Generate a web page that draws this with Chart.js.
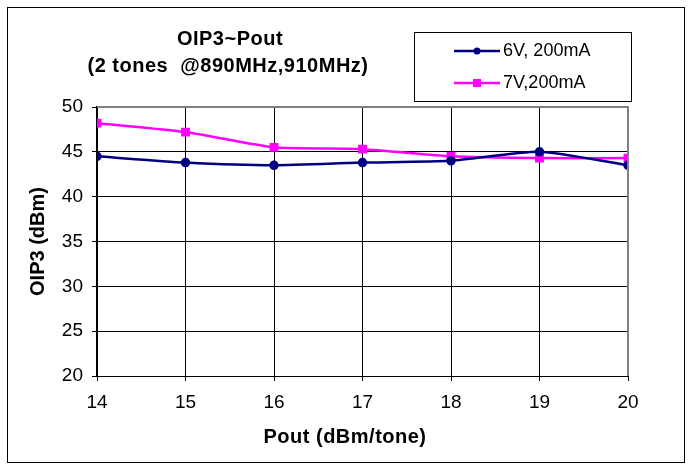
<!DOCTYPE html>
<html>
<head>
  <title>OIP3~Pout</title>
  <script src="https://cdn.jsdelivr.net/npm/chart.js"></script>
  <style>
    body { margin: 0; background: #fff; }
  </style>
</head>
<body>
  <canvas id="oip3Chart" width="692" height="470"></canvas>

  <script>
    const pout = [14, 15, 16, 17, 18, 19, 20];
    const oip3_6V = [44.5, 43.8, 43.5, 43.8, 44.0, 45.0, 43.5];
    const oip3_7V = [48.2, 47.2, 45.5, 45.3, 44.5, 44.3, 44.3];
    const seriesNames = ['6V, 200mA', '7V,200mA'];
    const titleLines = ['OIP3~Pout', '(2 tones  @890MHz,910MHz)'];
    const xTitle = 'Pout (dBm/tone)';
    const yTitle = 'OIP3 (dBm)';

    const FONT = '"Liberation Sans", Arial, sans-serif';

    // frame, title, x title and legend box like the Excel original
    const decor = {
      id: 'decor',
      beforeDraw(chart) {
        const c = chart.ctx;
        c.save();
        c.fillStyle = '#fff';
        c.fillRect(0, 0, chart.width, chart.height);
        c.strokeStyle = '#000';
        c.lineWidth = 1;
        c.strokeRect(7.5, 7.5, 677, 455);
        c.restore();
      },
      afterDraw(chart) {
        const c = chart.ctx;
        const a = chart.chartArea;
        c.save();
        // top / right border of plot area
        c.strokeStyle = '#808080';
        c.lineWidth = 2;
        c.beginPath();
        c.moveTo(a.left, a.top);
        c.lineTo(a.right, a.top);
        c.lineTo(a.right, a.bottom);
        c.stroke();

        c.fillStyle = '#000';
        c.textAlign = 'center';
        c.textBaseline = 'middle';
        c.font = 'bold 20px ' + FONT;
        c.letterSpacing = '0.5px';
        c.fillText(titleLines[0], 230, 39);
        c.fillText(titleLines[1], 228, 66);
        c.fillText(xTitle, 345, 437);
        c.letterSpacing = '0px';

        // legend
        c.fillStyle = '#fff';
        c.fillRect(415, 32, 217, 69);
        c.strokeStyle = '#000';
        c.lineWidth = 1;
        c.strokeRect(414.5, 32.5, 217, 69);
        const rows = [51, 83];
        chart.data.datasets.forEach((ds, i) => {
          const y = rows[i];
          c.strokeStyle = ds.borderColor;
          c.lineWidth = 2.5;
          c.beginPath();
          c.moveTo(454, y);
          c.lineTo(500, y);
          c.stroke();
          c.fillStyle = ds.borderColor;
          if (ds.pointStyle === 'rect') {
            c.fillRect(473, y - 4, 8, 8);
          } else {
            c.beginPath();
            c.arc(477, y, 3.5, 0, Math.PI * 2);
            c.fill();
          }
          c.fillStyle = '#000';
          c.textAlign = 'left';
          c.font = '18px ' + FONT;
          c.fillText(ds.label, 503, y);
        });
        c.restore();
      }
    };

    const ctx = document.getElementById('oip3Chart').getContext('2d');
    new Chart(ctx, {
      type: 'line',
      data: {
        datasets: [{
          label: seriesNames[0],
          data: pout.map((x, i) => ({ x: x, y: oip3_6V[i] })),
          borderColor: '#000080',
          backgroundColor: '#000080',
          borderWidth: 2.5,
          pointStyle: 'circle',
          pointRadius: 3.5,
          tension: 0.2
        }, {
          label: seriesNames[1],
          data: pout.map((x, i) => ({ x: x, y: oip3_7V[i] })),
          borderColor: '#ff00ff',
          backgroundColor: '#ff00ff',
          borderWidth: 2.5,
          pointStyle: 'rect',
          pointRadius: 4.5,
          tension: 0.2
        }]
      },
      options: {
        responsive: false,
        animation: false,
        layout: { padding: { left: 8, right: 64, top: 107, bottom: 10 } },
        plugins: {
          legend: { display: false },
          title: { display: false },
          tooltip: { enabled: false }
        },
        scales: {
          x: {
            type: 'linear',
            min: 14,
            max: 20,
            ticks: { stepSize: 1, color: '#000', font: { family: FONT, size: 19 }, padding: 10 },
            grid: { color: '#000', lineWidth: 1, tickLength: 5 },
            border: { color: '#000', width: 1 },
            afterFit(s) { s.height = 84; }
          },
          y: {
            min: 20,
            max: 50,
            ticks: { stepSize: 5, color: '#000', font: { family: FONT, size: 19 }, padding: 9 },
            grid: { color: '#000', lineWidth: 1, tickLength: 5 },
            border: { color: '#000', width: 2 },
            title: { display: true, text: yTitle, color: '#000', font: { family: FONT, size: 20, weight: 'bold' }, padding: { top: 18, bottom: 4 } },
            afterFit(s) { s.width = 89; }
          }
        }
      },
      plugins: [decor]
    });
  </script>
</body>
</html>
